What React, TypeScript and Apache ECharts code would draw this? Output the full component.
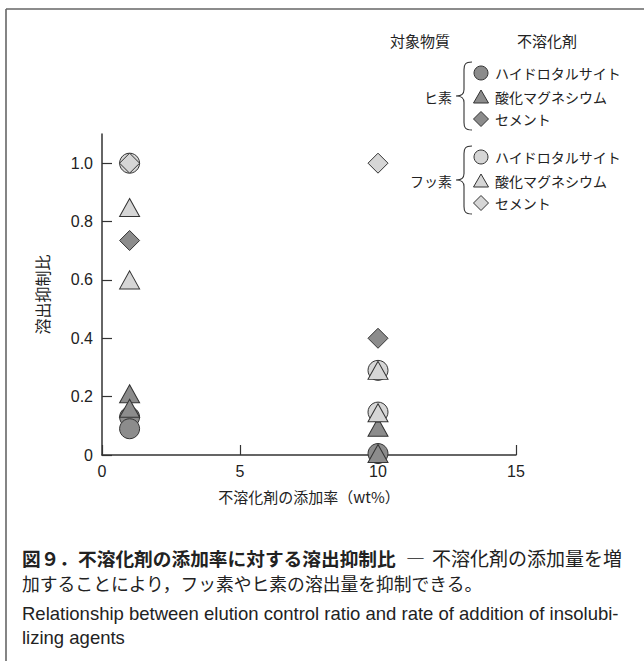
import React, { useEffect, useRef } from "react";
import * as echarts from "echarts";

// ---- data ----
const xTicks = [0, 5, 10, 15];
const yTicks = [0, 0.2, 0.4, 0.6, 0.8, 1.0];

const seriesNames = [
  "ヒ素・ハイドロタルサイト",
  "ヒ素・酸化マグネシウム",
  "ヒ素・セメント",
  "フッ素・ハイドロタルサイト",
  "フッ素・酸化マグネシウム",
  "フッ素・セメント",
];

const asHydrotalcite: [number, number][] = [[1, 0.13], [1, 0.09], [10, 0.005]];
const asMgO: [number, number][] = [[1, 0.21], [1, 0.16], [10, 0.095], [10, 0.005]];
const asCement: [number, number][] = [[1, 0.735], [10, 0.4]];
const fHydrotalcite: [number, number][] = [[1, 1.0], [10, 0.29], [10, 0.147]];
const fMgO: [number, number][] = [[1, 0.848], [1, 0.6], [10, 0.29], [10, 0.145]];
const fCement: [number, number][] = [[1, 1.0], [10, 1.0]];

const legendHeaders = ["対象物質", "不溶化剤"];
const substances = ["ヒ素", "フッ素"];
const agents = ["ハイドロタルサイト", "酸化マグネシウム", "セメント"];

const captionBold = "図９．不溶化剤の添加率に対する溶出抑制比";
const captionDash = "―";
const captionRest = "不溶化剤の添加量を増";
const captionLine2 = "加することにより，フッ素やヒ素の溶出量を抑制できる。";
const captionEn1 = "Relationship between elution control ratio and rate of addition of insolubi-";
const captionEn2 = "lizing agents";

const DARK = "#8c8c8c";
const LIGHT = "#d6d6d6";
const STROKE = "#333333";
const TEXT = "#222222";
const JP = "'Noto Sans CJK JP', 'Noto Sans', sans-serif";
const EN = "'Liberation Sans', Arial, sans-serif";

let braceRegistered = false;
function registerBrace() {
  if (braceRegistered) return;
  const d =
    "M16,0 C9,0 8,3 8,8 L8,29 C8,34 6,36 0,36 C6,36 8,38 8,43 L8,64 C8,69 9,72 16,72";
  echarts.graphic.registerShape("brace", echarts.graphic.extendPath(d, {}) as any);
  braceRegistered = true;
}

export default function App() {
  const ref = useRef<HTMLDivElement>(null);

  useEffect(() => {
    if (!ref.current) return;
    registerBrace();
    const chart = echarts.init(ref.current, undefined, { renderer: "svg" });

    const mk = (
      name: string,
      data: [number, number][],
      symbol: string,
      size: number | number[],
      fill: string
    ) => ({
      name,
      type: "scatter",
      data,
      symbol,
      symbolSize: size,
      itemStyle: { color: fill, borderColor: STROKE, borderWidth: 1, opacity: 1 },
      emphasis: { disabled: true },
    });

    // legend graphics
    const symX = 481;
    const rowsY = [[73, 97, 119], [157, 181, 203]];
    const fills = [DARK, LIGHT];
    const legend: any[] = [];
    legend.push({
      type: "text",
      x: 420,
      y: 40,
      style: { text: legendHeaders[0], font: `15px ${JP}`, fill: TEXT, align: "center", verticalAlign: "middle" },
    });
    legend.push({
      type: "text",
      x: 547,
      y: 40,
      style: { text: legendHeaders[1], font: `15px ${JP}`, fill: TEXT, align: "center", verticalAlign: "middle" },
    });
    rowsY.forEach((rows, g) => {
      const fill = fills[g];
      const style = { fill, stroke: STROKE, lineWidth: 1 };
      legend.push({ type: "circle", shape: { cx: symX, cy: rows[0], r: 7 }, style });
      legend.push({
        type: "polygon",
        shape: { points: [[symX, rows[1] - 7], [symX + 7.5, rows[1] + 6], [symX - 7.5, rows[1] + 6]] },
        style,
      });
      legend.push({
        type: "polygon",
        shape: { points: [[symX, rows[2] - 7.5], [symX + 7.5, rows[2]], [symX, rows[2] + 7.5], [symX - 7.5, rows[2]]] },
        style,
      });
      agents.forEach((a, i) => {
        legend.push({
          type: "text",
          x: 495,
          y: rows[i],
          style: { text: a, font: `14px ${JP}`, fill: TEXT, align: "left", verticalAlign: "middle" },
        });
      });
      legend.push({
        type: "text",
        x: 452,
        y: rows[1],
        style: { text: substances[g], font: `14px ${JP}`, fill: TEXT, align: "right", verticalAlign: "middle" },
      });
      const top = rows[0] - 11;
      const h = rows[2] - rows[0] + 22;
      legend.push({
        type: "brace",
        x: 456,
        y: top,
        scaleX: 1,
        scaleY: h / 72,
        style: { fill: "none", stroke: STROKE, lineWidth: 1.1 },
      });
    });

    const frame = [
      { type: "line", shape: { x1: 6, y1: 9, x2: 644, y2: 9 }, style: { stroke: "#666", lineWidth: 1.6 } },
      { type: "line", shape: { x1: 6, y1: 9, x2: 6, y2: 661 }, style: { stroke: "#666", lineWidth: 1.6 } },
    ];

    const captions = [
      {
        type: "text",
        x: 22,
        y: 557,
        style: { text: captionBold, font: `bold 18.7px ${JP}`, fill: TEXT, verticalAlign: "middle", align: "left" },
      },
      {
        type: "text",
        x: 406,
        y: 557,
        style: { text: captionDash, font: `19px ${JP}`, fill: TEXT, verticalAlign: "middle", align: "left" },
      },
      {
        type: "text",
        x: 622,
        y: 557,
        style: { text: captionRest, font: `19px ${JP}`, fill: TEXT, verticalAlign: "middle", align: "right" },
      },
      {
        type: "text",
        x: 22,
        y: 583,
        style: { text: captionLine2, font: `17.8px ${JP}`, fill: TEXT, verticalAlign: "middle" },
      },
      {
        type: "text",
        x: 22,
        y: 613,
        style: { text: captionEn1, font: `18.5px ${EN}`, fill: TEXT, verticalAlign: "middle" },
      },
      {
        type: "text",
        x: 22,
        y: 637,
        style: { text: captionEn2, font: `18.5px ${EN}`, fill: TEXT, verticalAlign: "middle" },
      },
    ];

    chart.setOption({
      animation: false,
      backgroundColor: "#ffffff",
      grid: { left: 102, right: 128, top: 134, bottom: 206, containLabel: false },
      xAxis: {
        type: "value",
        min: 0,
        max: 15,
        interval: 5,
        name: "不溶化剤の添加率（wt%）",
        nameLocation: "middle",
        nameGap: 34,
        nameTextStyle: { fontFamily: JP, fontSize: 15, color: TEXT },
        axisLine: { show: true, lineStyle: { color: STROKE, width: 1.5 } },
        axisTick: { show: true, inside: true, length: 10, lineStyle: { color: STROKE, width: 1.2 }, customValues: xTicks },
        axisLabel: { fontFamily: EN, fontSize: 16, color: TEXT, margin: 8, customValues: xTicks },
        splitLine: { show: false },
      },
      yAxis: {
        type: "value",
        min: 0,
        max: 1.1,
        name: "溶出抑制比",
        nameLocation: "middle",
        nameGap: 52,
        nameRotate: 90,
        nameTextStyle: { fontFamily: JP, fontSize: 16, color: TEXT },
        axisLine: { show: true, lineStyle: { color: STROKE, width: 1.5 } },
        axisTick: { show: true, inside: true, length: 10, lineStyle: { color: STROKE, width: 1.2 }, customValues: yTicks },
        axisLabel: {
          fontFamily: EN,
          fontSize: 16,
          color: TEXT,
          margin: 9,
          customValues: yTicks,
          formatter: (v: number) => (v === 0 ? "0" : v.toFixed(1)),
        },
        splitLine: { show: false },
      },
      series: [
        mk(seriesNames[0], asHydrotalcite, "circle", 20, DARK),
        mk(seriesNames[1], asMgO, "triangle", [20, 18], DARK),
        mk(seriesNames[2], asCement, "diamond", 20, DARK),
        mk(seriesNames[3], fHydrotalcite, "circle", 20, LIGHT),
        mk(seriesNames[4], fMgO, "triangle", [20, 18], LIGHT),
        mk(seriesNames[5], fCement, "diamond", 20, LIGHT),
      ],
      graphic: [...frame, ...legend, ...captions],
    });

    return () => chart.dispose();
  }, []);

  return (
    <div
      ref={ref}
      style={{ position: "absolute", left: 0, top: 0, width: 644, height: 661, background: "#fff" }}
    />
  );
}
